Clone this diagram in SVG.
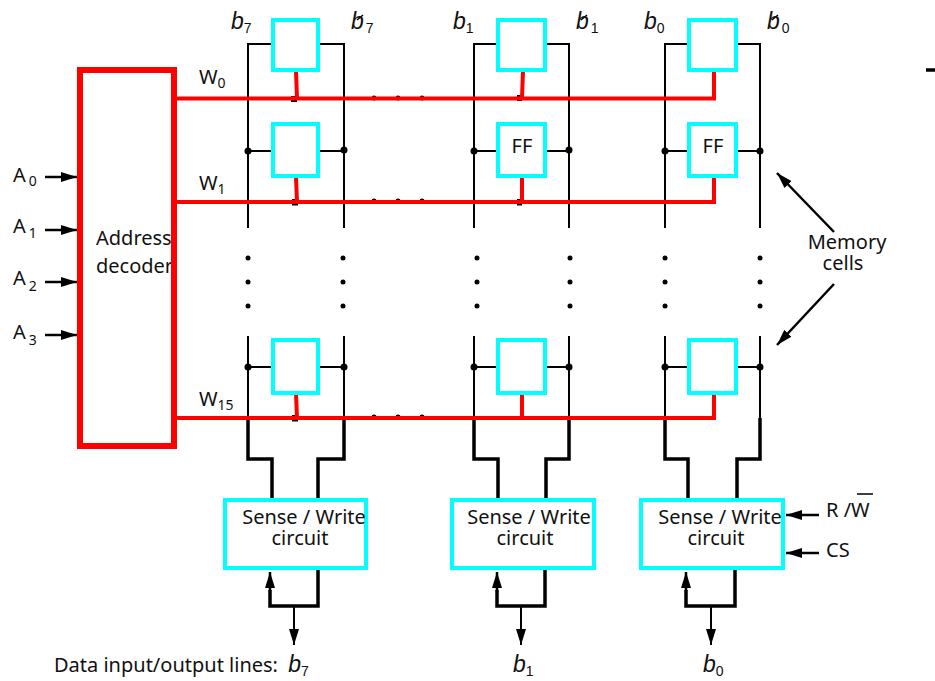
<svg xmlns="http://www.w3.org/2000/svg" width="935" height="681" viewBox="0 0 935 681">
<defs>
<marker id="arr" viewBox="0 0 10 10" refX="10" refY="5" markerUnits="userSpaceOnUse" markerWidth="16" markerHeight="10" orient="auto" preserveAspectRatio="none"><path d="M0 0L10 5L0 10Z" fill="#000"/></marker>
</defs>
<style>
text{font-family:"Noto Sans","Open Sans","Liberation Sans",sans-serif;font-size:20px;fill:#111}
.i{font-style:italic;font-size:23px;font-family:"Liberation Sans",sans-serif}
.s{font-size:14px}
.si{font-size:14px;font-family:"Liberation Sans",sans-serif;font-style:normal}
.cell{fill:#fff;stroke:#0ff;stroke-width:4}
.bl{fill:none;stroke:#000;stroke-width:2}
.th{fill:none;stroke:#000;stroke-width:3.5}
.wl{fill:none;stroke:#f00;stroke-width:4}
.stub{fill:none;stroke:#f00;stroke-width:4}
.ar{stroke:#000;stroke-width:2.5;fill:none;marker-end:url(#arr)}
.d{fill:#000}
</style>
<rect width="935" height="681" fill="#fff"/>
<g id="connectors">
<g class="bitlines">
<path class="bl" d="M248 228V44H272M319 44H344V228"/>
<path class="bl" d="M474 228V44H498M546 44H569V228"/>
<path class="bl" d="M665 228V44H688M737 44H760V228"/>
<path class="bl" d="M248 151H272M319 151H344M474 151H498M546 151H569M665 151H688M737 151H760"/>
<path class="bl" d="M248 336V419M344 336V419M474 336V419M569 336V419M665 336V419M760 336V419"/>
<path class="bl" d="M248 367H272M319 367H344M474 367H498M546 367H569M665 367H688M737 367H760"/>
</g>
<g class="sense">
<path class="th" d="M248 418V459H272V499M344 418V459H318V499"/>
<path class="th" d="M474 418V459H498V499M569 418V459H546V499"/>
<path class="th" d="M665 418V459H688V499M760 418V459H737V499"/>
<path class="th" d="M318 569V606H270V590"/>
<path class="th" d="M545 569V606H497V590"/>
<path class="th" d="M735 569V606H686V590"/>
</g>
<g class="arrows">
<path class="ar" d="M270 592V572"/><path class="ar" d="M497 592V572"/><path class="ar" d="M686 592V572"/>
<path class="ar" style="stroke-width:2" d="M294 606V645"/><path class="ar" style="stroke-width:2" d="M521 606V645"/><path class="ar" style="stroke-width:2" d="M711 606V645"/>
<path class="ar" d="M45 177H77"/><path class="ar" d="M45 230H77"/><path class="ar" d="M45 282H77"/><path class="ar" d="M45 335H77"/>
<path class="ar" d="M819 515H786"/><path class="ar" d="M819 553H786"/>
<path class="ar" d="M834 232L777 173"/><path class="ar" d="M834 284L777 345"/>
</g>
<g class="dots">
<path class="d" d="M291 96h6v6h-6zM292 199h6v6.500h-6zM292 415h6v6.500h-6zM517 95h5v6h-5zM517 199h5v6.500h-5z"/>
<circle class="d" cx="248" cy="151" r="3.500"/><circle class="d" cx="344" cy="150" r="3.500"/><circle class="d" cx="474" cy="151" r="3.500"/><circle class="d" cx="569" cy="150" r="3.500"/><circle class="d" cx="665" cy="151" r="3.500"/><circle class="d" cx="760" cy="151" r="3.500"/>
<circle class="d" cx="248" cy="367" r="3.500"/><circle class="d" cx="344" cy="367" r="3.500"/><circle class="d" cx="474" cy="367" r="3.500"/><circle class="d" cx="569" cy="367" r="3.500"/><circle class="d" cx="665" cy="367" r="3.500"/><circle class="d" cx="760" cy="367" r="3.500"/>
<g id="hdots"><circle class="d" cx="374" cy="98" r="2.500"/><circle class="d" cx="398" cy="98" r="2.500"/><circle class="d" cx="422" cy="98" r="2.500"/><circle class="d" cx="374" cy="201" r="2.500"/><circle class="d" cx="398" cy="201" r="2.500"/><circle class="d" cx="422" cy="201" r="2.500"/><circle class="d" cx="374" cy="417" r="2.500"/><circle class="d" cx="398" cy="417" r="2.500"/><circle class="d" cx="422" cy="417" r="2.500"/></g>
<g id="vdots"><circle class="d" cx="248" cy="258" r="2.500"/><circle class="d" cx="248" cy="282" r="2.500"/><circle class="d" cx="248" cy="306" r="2.500"/><circle class="d" cx="343" cy="258" r="2.500"/><circle class="d" cx="343" cy="282" r="2.500"/><circle class="d" cx="343" cy="306" r="2.500"/><circle class="d" cx="477" cy="258" r="2.500"/><circle class="d" cx="477" cy="282" r="2.500"/><circle class="d" cx="477" cy="306" r="2.500"/><circle class="d" cx="570" cy="258" r="2.500"/><circle class="d" cx="570" cy="282" r="2.500"/><circle class="d" cx="570" cy="306" r="2.500"/><circle class="d" cx="665" cy="258" r="2.500"/><circle class="d" cx="665" cy="282" r="2.500"/><circle class="d" cx="665" cy="306" r="2.500"/><circle class="d" cx="760" cy="258" r="2.500"/><circle class="d" cx="760" cy="282" r="2.500"/><circle class="d" cx="760" cy="306" r="2.500"/></g>
</g>
<g class="wordlines">
<path class="wl" d="M176 98.500H714V72"/>
<path class="wl" d="M176 202H714V177"/>
<path class="wl" d="M176 418H714V393"/>
<path class="stub" d="M296 71L297 98M523 71L522 98M296 177L297 202M522 177V202M296 393L297 418M522 393V418"/>
</g>
<path id="overlines" d="M357 20L363 15M581 20L587 15M772 20L778 15M857 494H873" stroke="#000" stroke-width="1.500" fill="none"/>
<path id="edge-mark" d="M926 70H935" stroke="#000" stroke-width="3.500" fill="none"/>
</g>
<g id="decoder"><rect x="80" y="70" width="94" height="376" fill="#fff"/><text x="96" y="245">Address</text><text x="96" y="273">decoder</text><rect x="80" y="70" width="94" height="376" fill="none" stroke="#f00" stroke-width="6"/></g>
<g id="cell-7-0"><rect class="cell" x="273" y="20" width="45" height="50"/></g>
<g id="cell-7-1"><rect class="cell" x="273" y="124" width="45" height="52"/></g>
<g id="cell-7-15"><rect class="cell" x="273" y="340" width="45" height="53"/></g>
<g id="cell-1-0"><rect class="cell" x="498" y="20" width="47" height="50"/></g>
<g id="cell-1-1"><rect class="cell" x="498" y="124" width="47" height="52"/><text x="522" y="153" text-anchor="middle">FF</text></g>
<g id="cell-1-15"><rect class="cell" x="498" y="340" width="47" height="53"/></g>
<g id="cell-0-0"><rect class="cell" x="689" y="20" width="47" height="50"/></g>
<g id="cell-0-1"><rect class="cell" x="689" y="124" width="47" height="52"/><text x="713" y="153" text-anchor="middle">FF</text></g>
<g id="cell-0-15"><rect class="cell" x="689" y="340" width="47" height="53"/></g>
<g id="sense-7"><rect class="cell" x="225" y="500" width="141" height="68"/><text x="304" y="524" text-anchor="middle">Sense / Write</text><text x="300" y="545" text-anchor="middle">circuit</text></g>
<g id="sense-1"><rect class="cell" x="452" y="500" width="142" height="68"/><text x="529" y="524" text-anchor="middle">Sense / Write</text><text x="525" y="545" text-anchor="middle">circuit</text></g>
<g id="sense-0"><rect class="cell" x="641" y="500" width="142" height="68"/><text x="720" y="524" text-anchor="middle">Sense / Write</text><text x="716" y="545" text-anchor="middle">circuit</text></g>
<g id="labels">
<text x="13" y="182">A<tspan class="s" dx="3" dy="4">0</tspan></text>
<text x="13" y="233">A<tspan class="s" dx="3" dy="5">1</tspan></text>
<text x="13" y="285">A<tspan class="s" dx="3" dy="6">2</tspan></text>
<text x="13" y="339">A<tspan class="s" dx="3" dy="6">3</tspan></text>
<text x="199" y="84">W<tspan class="s" dy="4">0</tspan></text>
<text x="199" y="190">W<tspan class="s" dy="4">1</tspan></text>
<text x="199" y="406">W<tspan class="s" dy="4">15</tspan></text>
<text class="i" x="231" y="29">b<tspan class="si" dy="4">7</tspan></text>
<text class="i" x="351" y="29">b<tspan class="si" dx="2" dy="4">7</tspan></text>
<text class="i" x="453" y="29">b<tspan class="si" dy="4">1</tspan></text>
<text class="i" x="576" y="29">b<tspan class="si" dx="2" dy="4">1</tspan></text>
<text class="i" x="644" y="29">b<tspan class="si" dy="4">0</tspan></text>
<text class="i" x="767" y="29">b<tspan class="si" dx="2" dy="4">0</tspan></text>
<text x="847" y="249" text-anchor="middle">Memory</text>
<text x="843" y="270" text-anchor="middle">cells</text>
<text x="826" y="517">R /W</text>
<text x="826" y="557">CS</text>
<text x="54" y="672">Data input/output lines: <tspan class="i" dx="5">b</tspan><tspan class="si" font-style="italic" dy="4">7</tspan></text>
<text class="i" x="513" y="672">b<tspan class="si" dy="4">1</tspan></text>
<text class="i" x="703" y="672">b<tspan class="si" dy="4">0</tspan></text>
</g>
</svg>
